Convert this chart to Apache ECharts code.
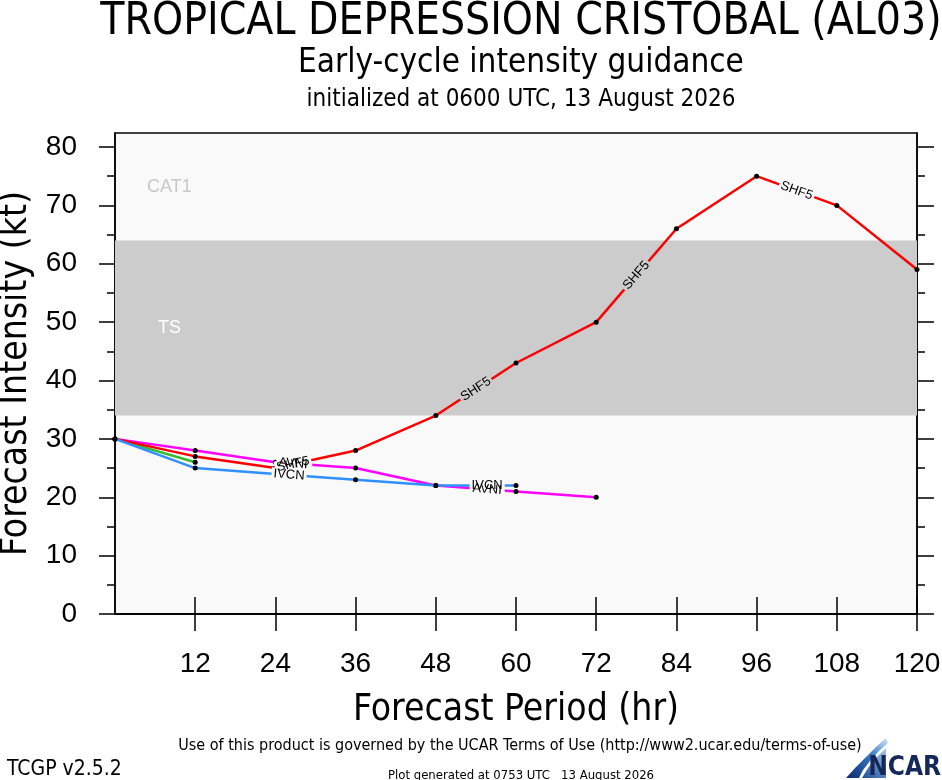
<!DOCTYPE html>
<html>
<head>
<meta charset="utf-8">
<script src="https://cdn.jsdelivr.net/npm/echarts@6/dist/echarts.min.js"></script>
<style>
  html, body { margin: 0; padding: 0; background: #fff; }
  #chart { width: 942px; height: 780px; }
</style>
</head>
<body>
<div id="chart"></div>
<script>
// forecast hours and tick values
const hours = [0, 12, 24, 36, 48, 60, 72, 84, 96, 108, 120];
const xTicks = [12, 24, 36, 48, 60, 72, 84, 96, 108, 120];
const yTicks = [0, 10, 20, 30, 40, 50, 60, 70, 80];
const yMinorTicks = [5, 15, 25, 35, 45, 55, 65, 75];

// intensity guidance (kt)
const shf5 = [30, 27, 25, 28, 34, 43, 50, 66, 75, 70, 59];
const avni = [30, 28, 26, 25, 22, 21, 20];
const dshp = [30, 26];
const ivcn = [30, 25, 24, 23, 22, 22];

// intensity bands
const bandNames = ['TS', 'CAT1'];
const bandFrom = [34, 64];
const bandTo = [64, 83];

// labels drawn along the lines: model, segment start hour, fraction along segment
const lineLabelModel = ['SHF5', 'SHF5', 'SHF5', 'SHF5', 'AVNI', 'IVCN', 'IVCN', 'AVNI'];
const lineLabelHour = [48, 72, 96, 24, 24, 24, 48, 48];
const lineLabelFrac = [0.5, 0.5, 0.5, 0.22, 0.22, 0.17, 0.64, 0.64];

const models = [
    { name: 'AVNI', data: avni, color: '#ff00ff' },
    { name: 'DSHP', data: dshp, color: '#33bb33' },
    { name: 'SHF5', data: shf5, color: '#ff0000' },
    { name: 'IVCN', data: ivcn, color: '#2f90ff' }
];

const FONT = 'Liberation Sans Narrow, DejaVu Sans Condensed, Liberation Sans, sans-serif';
const SANS = 'Liberation Sans, Arial, sans-serif';
const plotBg = '#f9f9f9';
const tsColor = '#cccccc';

const chart = echarts.init(document.getElementById('chart'));

const tickAxis = (pos, values, len, showLine) => ({
    type: 'value',
    position: pos,
    min: 0,
    max: 82.4,
    interval: 5,
    axisLine: { show: showLine, lineStyle: { color: '#000', width: 1.5 } },
    axisTick: { show: true, inside: false, length: len, customValues: values, lineStyle: { color: '#000', width: 1.5 } },
    axisLabel: { show: false },
    splitLine: { show: false }
});

const leftAxis = tickAxis('left', yTicks, 16, true);
leftAxis.axisLabel = {
    show: true, customValues: yTicks, fontSize: 28, margin: 38,
    color: '#000', fontFamily: SANS
};
leftAxis.name = 'Forecast Intensity (kt)';
leftAxis.nameLocation = 'middle';
leftAxis.nameGap = 66;
leftAxis.nameTextStyle = { fontSize: 37, color: '#000', fontFamily: FONT };

const xAxisBase = (pos) => ({
    type: 'value',
    position: pos,
    min: 0,
    max: 120,
    interval: 12,
    axisLine: { show: true, lineStyle: { color: '#000', width: 1.5 } },
    axisTick: { show: true, inside: false, length: 17, customValues: xTicks, lineStyle: { color: '#000', width: 1.5 } },
    axisLabel: { show: false },
    splitLine: { show: false }
});

const bottomAxis = xAxisBase('bottom');
bottomAxis.axisLabel = {
    show: true, customValues: xTicks, fontSize: 28, margin: 36,
    color: '#000', fontFamily: SANS
};
bottomAxis.name = 'Forecast Period (hr)';
bottomAxis.nameLocation = 'middle';
bottomAxis.nameGap = 78;
bottomAxis.nameTextStyle = { fontSize: 37, color: '#000', fontFamily: FONT };

function bandArea() {
    return bandNames.map((n, i) => [
        {
            yAxis: bandFrom[i],
            itemStyle: { color: n === 'TS' ? tsColor : 'rgba(0,0,0,0)' },
            label: {
                show: true, position: 'insideLeft', distance: n === 'TS' ? 43 : 32,
                color: n === 'TS' ? '#ffffff' : '#c8c8c8', fontSize: 18,
                fontFamily: SANS
            },
            name: n
        },
        { yAxis: bandTo[i] }
    ]);
}

function interp(data, h, t) {
    const i = hours.indexOf(h);
    return data[i] + (data[i + 1] - data[i]) * t;
}

function inBand(v) {
    return v >= bandFrom[0] && v <= bandTo[0];
}

// every label position along the lines, with rotation following the segment
function lineLabelPoints(withRotation) {
    return lineLabelModel.map((name, k) => {
        const m = models.find(d => d.name === name);
        const h = lineLabelHour[k];
        const t = lineLabelFrac[k];
        const i = hours.indexOf(h);
        let rot = 0;
        if (withRotation) {
            const p1 = chart.convertToPixel({ gridIndex: 0 }, [hours[i], m.data[i]]);
            const p2 = chart.convertToPixel({ gridIndex: 0 }, [hours[i + 1], m.data[i + 1]]);
            rot = -Math.atan2(p2[1] - p1[1], p2[0] - p1[0]) * 180 / Math.PI;
        }
        return { name: name, x: h + 12 * t, y: interp(m.data, h, t), rot: rot };
    });
}

function buildOption(withRotation) {
    const pts = lineLabelPoints(withRotation);
    const labelFont = { fontSize: 13, fontFamily: SANS };

    const series = models.map((m, idx) => ({
        type: 'line',
        name: m.name,
        xAxisIndex: 0,
        yAxisIndex: 0,
        data: m.data.map((v, i) => [hours[i], v]),
        symbol: 'circle',
        symbolSize: 5,
        showAllSymbol: true,
        itemStyle: { color: '#000' },
        lineStyle: { color: m.color, width: 2.5 },
        emphasis: { disabled: true },
        z: 3 + idx,
        markPoint: {
            symbol: 'circle',
            symbolSize: 0,
            z: 12,
            label: Object.assign({ show: true, position: 'inside', color: '#000', formatter: '{b}' }, labelFont),
            data: pts.filter(p => p.name === m.name).map(p => ({
                name: p.name, coord: [p.x, p.y], label: { rotate: p.rot }
            }))
        }
    }));
    // background bands + gaps cut into the lines under the labels
    series.unshift({
        type: 'line',
        xAxisIndex: 0,
        yAxisIndex: 0,
        data: [],
        silent: true,
        z: 1,
        markArea: { silent: true, data: bandArea() },
        markPoint: {
            symbol: 'circle',
            symbolSize: 0,
            z: 11,
            label: Object.assign({ show: true, position: 'inside', formatter: '{b}', padding: [0, 2] }, labelFont),
            data: pts.map(p => {
                const bg = inBand(p.y) ? tsColor : plotBg;
                return {
                    name: p.name, coord: [p.x, p.y],
                    label: { rotate: p.rot, color: bg, backgroundColor: bg }
                };
            })
        }
    });

    return {
        animation: false,
        backgroundColor: '#ffffff',
        textStyle: { fontFamily: FONT },
        title: [
            { text: 'TROPICAL DEPRESSION CRISTOBAL (AL03)', left: 516, top: -4, textAlign: 'center',
              textStyle: { fontSize: 44, fontWeight: 'normal', color: '#000', fontFamily: FONT } },
            { text: 'Early-cycle intensity guidance', left: 516, top: 42, textAlign: 'center',
              textStyle: { fontSize: 33, fontWeight: 'normal', color: '#000', fontFamily: FONT } },
            { text: 'initialized at 0600 UTC, 13 August 2026', left: 516, top: 83, textAlign: 'center',
              textStyle: { fontSize: 24, fontWeight: 'normal', color: '#000', fontFamily: FONT } },
            { text: 'Use of this product is governed by the UCAR Terms of Use (http://www2.ucar.edu/terms-of-use)',
              left: 515, top: 733, textAlign: 'center',
              textStyle: { fontSize: 16, fontWeight: 'normal', color: '#000', fontFamily: FONT } },
            { text: 'TCGP v2.5.2', left: 2, top: 754,
              textStyle: { fontSize: 21, fontWeight: 'normal', color: '#000', fontFamily: FONT } },
            { text: 'Plot generated at 0753 UTC   13 August 2026', left: 516, top: 764, textAlign: 'center',
              textStyle: { fontSize: 13, fontWeight: 'normal', color: '#000', fontFamily: FONT } }
        ],
        grid: {
            left: 115, right: 25, top: 133, bottom: 166,
            outerBoundsMode: 'none', containLabel: false,
            show: true, backgroundColor: plotBg, borderColor: '#000', borderWidth: 1.5
        },
        xAxis: [bottomAxis, xAxisBase('top')],
        yAxis: [
            leftAxis,
            tickAxis('left', yMinorTicks, 8, false),
            tickAxis('right', yTicks, 17, true),
            tickAxis('right', yMinorTicks, 8, false)
        ],
        series: series,
        graphic: [
            {
                type: 'polygon',
                shape: { points: [[846, 778], [856, 767], [866, 757], [876, 747], [886, 738], [888, 743], [879, 751], [870, 761], [863, 770], [859, 778]] },
                style: {
                    fill: new echarts.graphic.LinearGradient(0, 1, 1, 0, [
                        { offset: 0, color: '#0a2a6a' },
                        { offset: 0.6, color: '#3a7cc8' },
                        { offset: 1, color: '#d5e7f7' }
                    ])
                }
            },
            {
                type: 'polygon',
                shape: { points: [[862, 778], [868, 768], [876, 758], [886, 748], [886, 778]] },
                style: {
                    fill: new echarts.graphic.LinearGradient(0, 1, 1, 0, [
                        { offset: 0, color: '#1f4f98' },
                        { offset: 1, color: '#a6cbee' }
                    ])
                }
            },
            {
                type: 'text', right: 1, top: 755,
                style: { text: 'NCAR', fontSize: 26, fontWeight: 'bold', fill: '#14285a', fontFamily: 'DejaVu Sans Condensed, sans-serif' }
            }
        ]
    };
}

chart.setOption(buildOption(false));
chart.setOption(buildOption(true), true);
</script>
</body>
</html>
